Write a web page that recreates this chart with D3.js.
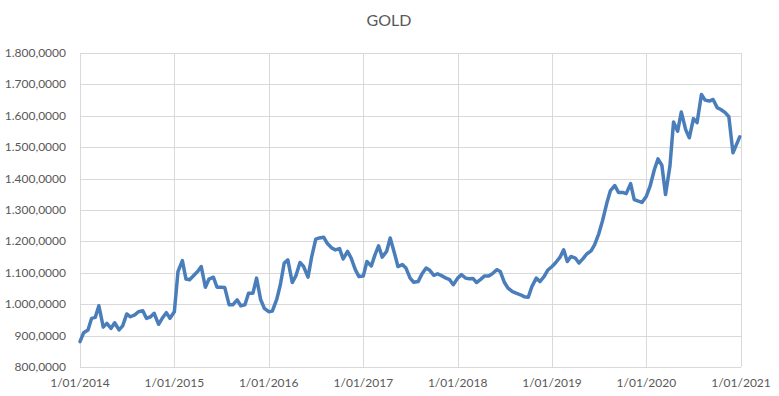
<!DOCTYPE html>
<html>
<head>
<meta charset="utf-8">
<script src="https://cdn.jsdelivr.net/npm/d3@7"></script>
<style>
  body { margin: 0; background: #fff; }
  text { font-family: Lato, "Open Sans", sans-serif; fill: #595959; }
</style>
</head>
<body>
<svg id="chart" width="779" height="396"></svg>
<script>
// semi-monthly prices, 1st and 15th of each month
const y2014 = [881, 909, 918, 955, 958, 995, 927, 939, 923, 941, 918, 931,
  969, 960, 966, 976, 979, 955, 960, 971, 936, 955, 973, 955]
const y2015 = [976, 1104, 1139, 1080, 1078, 1090, 1104, 1120, 1054, 1080, 1086, 1054,
  1054, 1053, 998, 998, 1014, 995, 998, 1035, 1035, 1083, 1014, 987]
const y2016 = [976, 978, 1015, 1062, 1131, 1141, 1069, 1090, 1133, 1120, 1086, 1150,
  1207, 1211, 1213, 1193, 1179, 1173, 1177, 1144, 1168, 1147, 1110, 1088]
const y2017 = [1090, 1136, 1122, 1157, 1186, 1150, 1168, 1211, 1164, 1120, 1126, 1115,
  1083, 1070, 1072, 1095, 1115, 1108, 1092, 1097, 1090, 1084, 1078, 1062]
const y2018 = [1083, 1094, 1083, 1081, 1082, 1069, 1080, 1090, 1090, 1097, 1110, 1104,
  1069, 1051, 1040, 1035, 1030, 1024, 1022, 1056, 1083, 1072, 1088, 1108]
const y2019 = [1120, 1132, 1150, 1173, 1136, 1152, 1147, 1131, 1145, 1160, 1170, 1190,
  1225, 1265, 1322, 1362, 1378, 1356, 1356, 1352, 1384, 1333, 1328, 1324]
const y2020 = [1344, 1375, 1429, 1463, 1442, 1349, 1439, 1580, 1551, 1612, 1556, 1530,
  1591, 1578, 1668, 1650, 1647, 1652, 1626, 1620, 1610, 1597, 1482]
const lastValue = 1533 // end of december 2020

const years = [2014, 2015, 2016, 2017, 2018, 2019, 2020]
const yTicks = [800, 900, 1000, 1100, 1200, 1300, 1400, 1500, 1600, 1700, 1800]

const series = [y2014, y2015, y2016, y2017, y2018, y2019, y2020]
let data = []
series.forEach((vals, i) => {
  vals.forEach((v, j) => {
    data.push({ date: new Date(years[i], Math.floor(j / 2), j % 2 ? 15 : 1), value: v })
  })
})
data.push({ date: new Date(2020, 11, 27), value: lastValue })

const margin = { top: 53, right: 38, bottom: 29, left: 80 }
const width = 779, height = 396

const svg = d3.select("#chart")

const x = d3.scaleTime()
  .domain([new Date(2014, 0, 1), new Date(2021, 0, 1)])
  .range([margin.left, width - margin.right])
const y = d3.scaleLinear()
  .domain([800, 1800])
  .range([height - margin.bottom, margin.top])

const locale = d3.formatLocale({ decimal: ",", thousands: ".", grouping: [3], currency: ["", ""] })
const fmt = locale.format(",.4f")
const dateFmt = d3.timeFormat("%-d/%m/%Y")
const xTicks = years.concat([2021]).map(yr => new Date(yr, 0, 1))

//grid
svg.append("g")
  .selectAll("line")
  .data(yTicks)
  .enter()
  .append("line")
  .attr("x1", margin.left)
  .attr("x2", width - margin.right)
  .attr("y1", d => Math.round(y(d)) + 0.5)
  .attr("y2", d => Math.round(y(d)) + 0.5)
  .style("stroke", "#d9d9d9")

svg.append("g")
  .selectAll("line")
  .data(xTicks)
  .enter()
  .append("line")
  .attr("x1", d => Math.round(x(d)) + 0.5)
  .attr("x2", d => Math.round(x(d)) + 0.5)
  .attr("y1", margin.top)
  .attr("y2", height - margin.bottom)
  .style("stroke", "#d9d9d9")

//labels
svg.append("g")
  .selectAll("text")
  .data(yTicks)
  .enter()
  .append("text")
  .attr("x", 66)
  .attr("y", d => y(d) + 4)
  .attr("text-anchor", "end")
  .style("font-size", "12px")
  .text(d => fmt(d))

svg.append("g")
  .selectAll("text")
  .data(xTicks)
  .enter()
  .append("text")
  .attr("x", d => x(d))
  .attr("y", 387)
  .attr("text-anchor", "middle")
  .style("font-size", "12px")
  .text(d => dateFmt(d))

svg.append("text")
  .attr("x", 389)
  .attr("y", 26)
  .attr("text-anchor", "middle")
  .style("font-size", "16px")
  .text("GOLD")

//line
let line = d3.line()
  .x(d => x(d.date))
  .y(d => y(d.value))

svg.append("path")
  .datum(data)
  .attr("d", line)
  .style("fill", "none")
  .style("stroke", "#4a7ebb")
  .style("stroke-width", "3.5px")
  .style("stroke-linejoin", "round")
  .style("stroke-linecap", "round")
</script>
</body>
</html>
